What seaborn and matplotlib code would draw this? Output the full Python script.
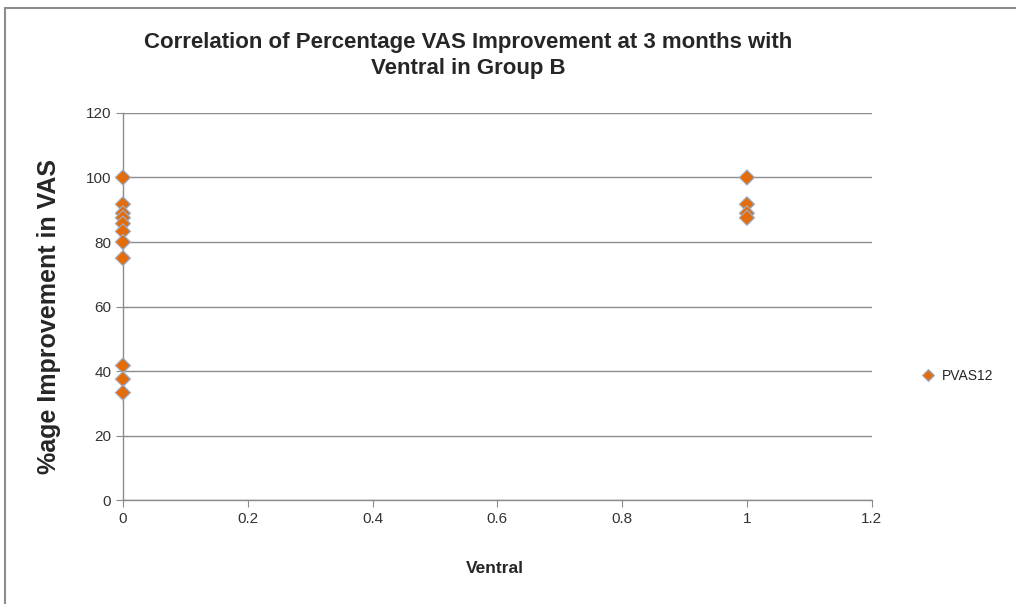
import matplotlib
matplotlib.use("Agg")
import matplotlib.pyplot as plt
import seaborn as sns
import pandas as pd

# values
ventral = [0, 0, 0, 0, 0, 0, 0, 0, 0, 0, 0, 1, 1, 1, 1]
pvas12 = [100, 91.7, 88.9, 87.5, 85.7, 83.3, 80, 75, 41.7, 37.5, 33.3,
          100, 91.7, 88.9, 87.5]
series_name = "PVAS12"

df = pd.DataFrame({"Ventral": ventral, "PVAS": pvas12, "series": series_name})

sns.set_style("white")
plt.rcParams["font.family"] = ["Liberation Sans", "DejaVu Sans"]

fig = plt.figure(figsize=(10.16, 6.04), dpi=100)
ax = fig.add_axes([0.121, 0.172, 0.737, 0.641])

sns.scatterplot(data=df, x="Ventral", y="PVAS", hue="series",
                palette=["#E46C0A"], marker="D", s=60,
                edgecolor="#95B3D7", linewidth=0.8, ax=ax, zorder=3,
                clip_on=False)

ax.set_xlim(0, 1.2)
ax.set_ylim(0, 120)
ax.set_xticks([0, 0.2, 0.4, 0.6, 0.8, 1, 1.2])
ax.set_xticklabels(["0", "0.2", "0.4", "0.6", "0.8", "1", "1.2"])
ax.set_yticks(range(0, 121, 20))
ax.yaxis.grid(True, color="#8C8C8C", linewidth=1)
ax.xaxis.grid(False)
ax.set_axisbelow(True)
for side in ["top", "right"]:
    ax.spines[side].set_visible(False)
for side in ["left", "bottom"]:
    ax.spines[side].set_color("#8C8C8C")
    ax.spines[side].set_linewidth(1)
ax.tick_params(axis="both", which="both", direction="out", length=5,
               color="#8C8C8C", labelsize=11, labelcolor="#333333",
               left=True, bottom=True)

ax.set_xlabel("Ventral", fontsize=12.5, fontweight="bold")
ax.xaxis.set_label_coords(0.497, -0.158)
ax.set_ylabel("%age Improvement in VAS", fontsize=18, fontweight="bold")
ax.yaxis.set_label_coords(-0.083, 0.473)
fig.text(0.461, 0.930, "Correlation of Percentage VAS Improvement at 3 months with",
         ha="center", va="center", fontsize=16, fontweight="bold")
fig.text(0.461, 0.886, "Ventral in Group B",
         ha="center", va="center", fontsize=16, fontweight="bold")

leg = ax.legend(loc="center left", bbox_to_anchor=(1.057, 0.32), frameon=False,
                fontsize=10, handletextpad=0.0, markerscale=0.75, borderpad=0,
                borderaxespad=0)

# outer chart border
fig.add_artist(plt.Line2D([0.005, 0.005], [0, 0.987], color="#8C8C8C", linewidth=1.5))
fig.add_artist(plt.Line2D([0.005, 1.0], [0.987, 0.987], color="#8C8C8C", linewidth=1.5))

fig.savefig("out.png", dpi=100)
